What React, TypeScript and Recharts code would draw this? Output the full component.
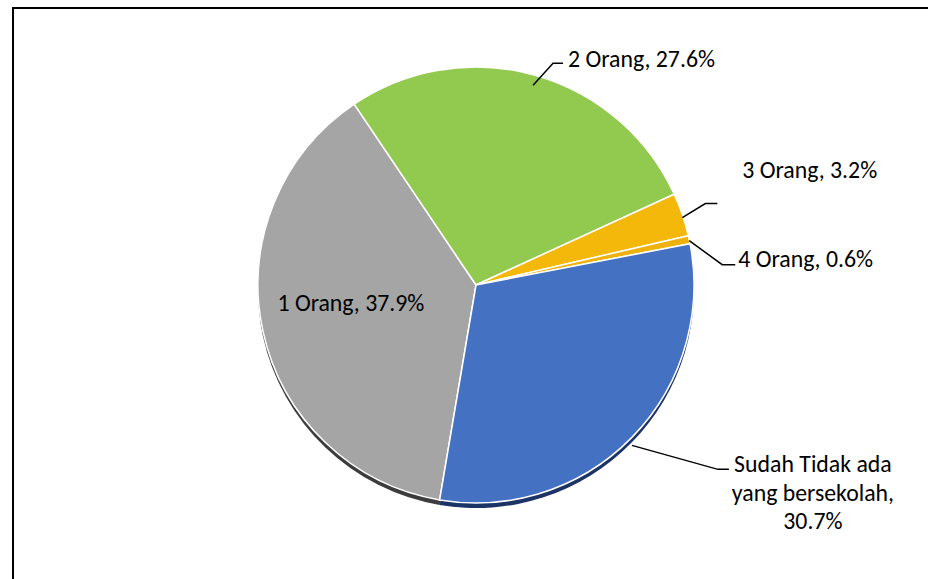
import React from 'react';
import { PieChart, Pie, Cell } from 'recharts';

const categories = ['1 Orang', '2 Orang', '3 Orang', '4 Orang', 'Sudah Tidak ada yang bersekolah'];
const shares = [37.9, 27.6, 3.2, 0.6, 30.7];
const sliceColors = ['#A5A5A5', '#92C94F', '#F3B80A', '#EFB10C', '#4571C2'];
const shadowColors = ['#3C3C3C', '#3E5A1E', '#6A5200', '#6A5200', '#1C3366'];

const data = categories.map((name, i) => ({ name, value: shares[i] }));

const W = 928;
const H = 579;
const CX = 476;
const CY = 285;
const R = 218;
const RAD = Math.PI / 180;
const FONT = 'Carlito, Calibri, Lato, sans-serif';

// offsets from the slice's outer edge point at its mid angle
const LABEL_LAYOUT = [
  { text: [88, -29], anchor: 'middle' },
  { start: [-2, 10], elbow: [18, -12], end: [28, -12], text: [33, -17], anchor: 'start' },
  { start: [0, 3], elbow: [23, -11], end: [35, -11], text: [60, -46], anchor: 'start' },
  { start: [0, 1], elbow: [33, 25], end: [46, 25], text: [49, 18], anchor: 'start' },
  { start: [0, 8], elbow: [86, 32], end: [97, 32], text: [181, 26], anchor: 'middle', breakAfter: 3 },
];

function renderLabel(props: any) {
  const { cx, cy, midAngle, outerRadius, index, name, value } = props;
  const l: any = LABEL_LAYOUT[index];
  const px = cx + outerRadius * Math.cos(-midAngle * RAD);
  const py = cy + outerRadius * Math.sin(-midAngle * RAD);
  let lines = [`${name}, ${value}%`];
  if (l.breakAfter) {
    const words = name.split(' ');
    lines = [
      words.slice(0, l.breakAfter).join(' '),
      words.slice(l.breakAfter).join(' ') + ',',
      `${value}%`,
    ];
  }
  const tx = px + l.text[0];
  const ty = py + l.text[1];
  return (
    <g key={`lbl-${index}`}>
      {l.start && (
        <polyline
          points={[l.start, l.elbow, l.end].map((p: number[]) => `${px + p[0]},${py + p[1]}`).join(' ')}
          fill="none"
          stroke="#000"
          strokeWidth={1.5}
        />
      )}
      <text
        x={tx}
        y={ty}
        textAnchor={l.anchor}
        dominantBaseline="central"
        fontFamily={FONT}
        fontSize={23.8}
        fill="#000"
      >
        {lines.map((s, i) => (
          <tspan key={i} x={tx} dy={i === 0 ? 0 : 28.5}>
            {s}
          </tspan>
        ))}
      </text>
    </g>
  );
}

export default function App() {
  return (
    <div style={{ position: 'fixed', left: 0, top: 0, width: W, height: H, overflow: 'hidden', background: '#fff' }}>
      <div
        style={{
          position: 'absolute',
          left: 12,
          top: 7,
          width: W + 40,
          height: H + 40,
          borderLeft: '2px solid #000',
          borderTop: '2px solid #000',
        }}
      />
      <div style={{ position: 'absolute', left: 0, top: 0 }}>
        <PieChart width={W} height={H} margin={{ top: 0, right: 0, bottom: 0, left: 0 }}>
          <Pie
            data={data}
            dataKey="value"
            nameKey="name"
            cx={CX}
            cy={CY + 5}
            outerRadius={R}
            startAngle={260.4}
            endAngle={-99.6}
            stroke="none"
            isAnimationActive={false}
            label={false}
            labelLine={false}
          >
            {data.map((d, i) => (
              <Cell key={d.name} fill={shadowColors[i]} />
            ))}
          </Pie>
          <Pie
            data={data}
            dataKey="value"
            nameKey="name"
            cx={CX}
            cy={CY}
            outerRadius={R}
            startAngle={260.4}
            endAngle={-99.6}
            stroke="#fff"
            strokeWidth={1.5}
            isAnimationActive={false}
            label={renderLabel}
            labelLine={false}
          >
            {data.map((d, i) => (
              <Cell key={d.name} fill={sliceColors[i]} />
            ))}
          </Pie>
        </PieChart>
      </div>
    </div>
  );
}
